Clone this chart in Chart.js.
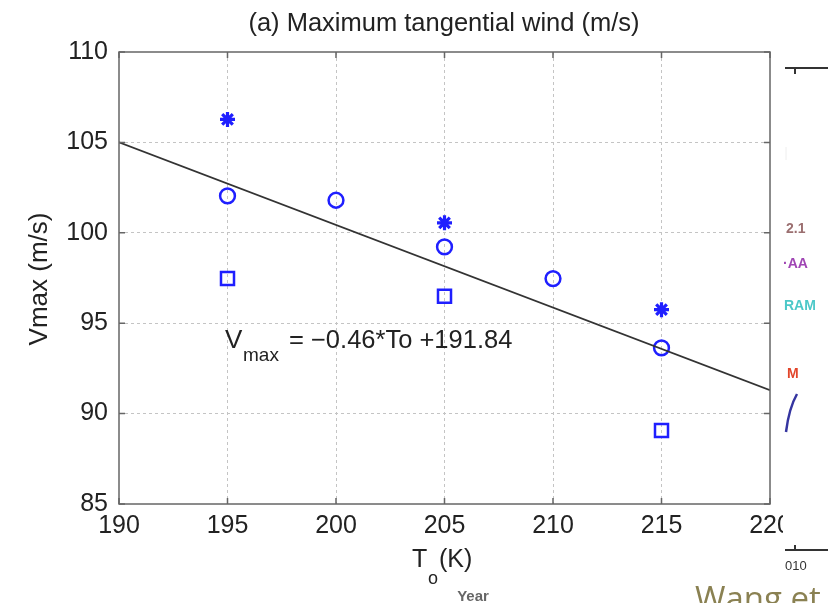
<!DOCTYPE html>
<html>
<head>
<meta charset="utf-8">
<script src="https://cdn.jsdelivr.net/npm/chart.js@4.4.0/dist/chart.umd.min.js"></script>
<style>
html,body{margin:0;padding:0;background:#fff;}
#wrap{width:828px;height:603px;position:relative;}
</style>
</head>
<body>
<div id="wrap"><canvas id="c" width="828" height="603"></canvas></div>
<script>
// ---- data ----
const starT = [195, 205, 215];
const starV = [106.27, 100.55, 95.75];
const circleT = [195, 200, 205, 210, 215];
const circleV = [102.04, 101.8, 99.22, 97.47, 93.63];
const squareT = [195, 205, 215];
const squareV = [97.47, 96.49, 89.07];
const fitT = [190, 220];
const fitV = [105.0, 91.3];
const xTicks = [190, 195, 200, 205, 210, 215, 220];
const yTicks = [85, 90, 95, 100, 105, 110];

const titleText = '(a) Maximum tangential wind (m/s)';
const yLabel = 'Vmax (m/s)';
const FONT = '"Liberation Sans", Arial, Helvetica, sans-serif';
const BLUE = '#1f1fff';

function pts(xs, ys){ return xs.map((x,i)=>({x:x, y:ys[i]})); }

const decor = {
  id: 'decor',
  afterDraw(chart){
    const ctx = chart.ctx, a = chart.chartArea;
    const xs = chart.scales.x, ys = chart.scales.y;
    ctx.save();
    // frame
    ctx.strokeStyle = '#666';
    ctx.lineWidth = 1.5;
    ctx.strokeRect(a.left, a.top, a.right - a.left, a.bottom - a.top);
    // inward ticks
    ctx.beginPath();
    xTicks.forEach(v=>{
      const px = xs.getPixelForValue(v);
      ctx.moveTo(px, a.bottom); ctx.lineTo(px, a.bottom - 6);
      ctx.moveTo(px, a.top); ctx.lineTo(px, a.top + 6);
    });
    yTicks.forEach(v=>{
      const py = ys.getPixelForValue(v);
      ctx.moveTo(a.left, py); ctx.lineTo(a.left + 6, py);
      ctx.moveTo(a.right, py); ctx.lineTo(a.right - 6, py);
    });
    ctx.stroke();

    ctx.fillStyle = '#222';
    // title
    ctx.font = '25.5px ' + FONT;
    ctx.textAlign = 'center';
    ctx.textBaseline = 'alphabetic';
    ctx.fillText(titleText, 444, 31);
    // y label
    ctx.save();
    ctx.translate(47, 279);
    ctx.rotate(-Math.PI/2);
    ctx.font = '26px ' + FONT;
    ctx.textAlign = 'center';
    ctx.fillText(yLabel, 0, 0);
    ctx.restore();
    // x label T_o(K)
    ctx.textAlign = 'left';
    ctx.font = '25px ' + FONT;
    ctx.fillText('T', 412, 567);
    ctx.font = '18px ' + FONT;
    ctx.fillText('o', 428, 584);
    ctx.font = '25px ' + FONT;
    ctx.fillText('(K)', 439, 567);
    // regression annotation
    ctx.font = '26px ' + FONT;
    ctx.fillText('V', 225, 348);
    ctx.font = '19px ' + FONT;
    ctx.fillText('max', 243, 361);
    ctx.font = '25.5px ' + FONT;
    ctx.fillText('= \u22120.46*To +191.84', 289, 348);

    // overlaid fragment of another figure on the right
    ctx.fillStyle = '#fff';
    ctx.fillRect(783, 0, 45, 603);
    ctx.strokeStyle = '#333';
    ctx.lineWidth = 2;
    ctx.beginPath();
    ctx.moveTo(785, 68); ctx.lineTo(828, 68);
    ctx.moveTo(795, 68); ctx.lineTo(795, 74);
    ctx.stroke();
    ctx.beginPath();
    ctx.moveTo(785, 550); ctx.lineTo(828, 550);
    ctx.moveTo(795, 550); ctx.lineTo(795, 545);
    ctx.stroke();
    ctx.strokeStyle = '#eee';
    ctx.lineWidth = 1;
    ctx.beginPath(); ctx.moveTo(786, 147); ctx.lineTo(786, 160); ctx.stroke();
    ctx.font = 'bold 14px ' + FONT;
    ctx.textAlign = 'left';
    ctx.fillStyle = '#9b6f70'; ctx.fillText('2.1', 786, 233);
    ctx.fillStyle = '#a046b4'; ctx.fillText('\u00b7AA', 783, 268);
    ctx.fillStyle = '#4cc8c8'; ctx.fillText('RAM', 784, 310);
    ctx.fillStyle = '#e2452a'; ctx.fillText('M', 787, 378);
    ctx.strokeStyle = '#3535a0';
    ctx.lineWidth = 2.5;
    ctx.beginPath(); ctx.moveTo(786, 432); ctx.quadraticCurveTo(789, 408, 797, 394); ctx.stroke();
    ctx.fillStyle = '#333';
    ctx.font = '13px ' + FONT;
    ctx.fillText('010', 785, 570);
    ctx.fillStyle = '#666';
    ctx.font = 'bold 15px ' + FONT;
    ctx.textAlign = 'center';
    ctx.fillText('Year', 473, 601);
    ctx.fillStyle = '#8a8152';
    ctx.font = '33px "Open Sans", "Noto Sans", sans-serif';
    ctx.textAlign = 'left';
    ctx.fillText('Wang et', 695, 610);
    ctx.restore();
  }
};

new Chart(document.getElementById('c'), {
  type: 'scatter',
  data: {
    datasets: [
      { label: 'fit', data: pts(fitT, fitV), showLine: true, borderColor: '#333', borderWidth: 1.8,
        pointRadius: 0, fill: false },
      { label: 'star', data: pts(starT, starV), pointStyle: 'star', pointRadius: 7.5,
        borderColor: BLUE, backgroundColor: BLUE, pointBorderWidth: 3.2 },
      { label: 'circle', data: pts(circleT, circleV), pointStyle: 'circle', pointRadius: 7.4,
        borderColor: BLUE, backgroundColor: 'rgba(0,0,0,0)', pointBorderWidth: 2.5 },
      { label: 'square', data: pts(squareT, squareV), pointStyle: 'rect', pointRadius: 9.2,
        borderColor: BLUE, backgroundColor: 'rgba(0,0,0,0)', pointBorderWidth: 2.5 }
    ]
  },
  options: {
    responsive: false,
    animation: false,
    layout: { padding: { top: 52, right: 58, left: 0, bottom: 0 } },
    plugins: { legend: { display: false }, tooltip: { enabled: false }, title: { display: false } },
    scales: {
      x: {
        type: 'linear', min: 190, max: 220,
        afterBuildTicks: s => { s.ticks = xTicks.map(v => ({ value: v })); },
        afterFit: s => { s.height = 99; },
        ticks: { font: { family: FONT, size: 25 }, color: '#222', padding: 7, maxRotation: 0 },
        grid: { drawTicks: false, tickLength: 0, lineWidth: 1,
                color: c => (c.tick && (c.tick.value === 190 || c.tick.value === 220)) ? 'rgba(0,0,0,0)' : '#c4c4c4' },
        border: { display: false, dash: [3, 3] }
      },
      y: {
        type: 'linear', min: 85, max: 110,
        afterBuildTicks: s => { s.ticks = yTicks.map(v => ({ value: v })); },
        afterFit: s => { s.width = 119; },
        ticks: { font: { family: FONT, size: 25 }, color: '#222', padding: 11 },
        grid: { drawTicks: false, tickLength: 0, lineWidth: 1,
                color: c => (c.tick && (c.tick.value === 85 || c.tick.value === 110)) ? 'rgba(0,0,0,0)' : '#c4c4c4' },
        border: { display: false, dash: [3, 3] }
      }
    }
  },
  plugins: [decor]
});
</script>
</body>
</html>
